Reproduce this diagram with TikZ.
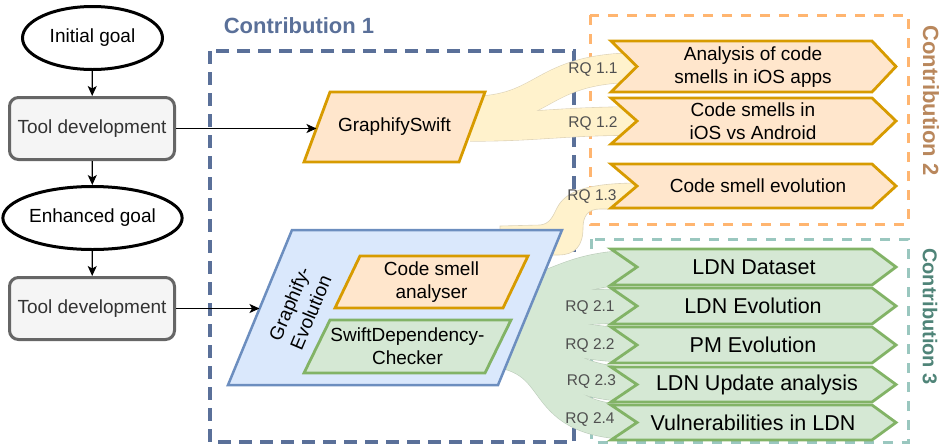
\documentclass[tikz,border=0pt]{standalone}
\usepackage{fontspec}
\setmainfont{Liberation Sans}
\usetikzlibrary{arrows.meta,shapes.geometric}

\definecolor{conOneLine}{HTML}{5A7099}
\definecolor{conTwoLine}{HTML}{FFB570}
\definecolor{conTwoText}{HTML}{B9875C}
\definecolor{conThreeLine}{HTML}{9AC7BF}
\definecolor{conThreeText}{HTML}{4F8478}
\definecolor{orFill}{HTML}{FFE6CC}
\definecolor{orLine}{HTML}{D79B00}
\definecolor{grFill}{HTML}{D5E8D4}
\definecolor{grLine}{HTML}{82B366}
\definecolor{blFill}{HTML}{DAE8FC}
\definecolor{blLine}{HTML}{6C8EBF}
\definecolor{ribYellow}{HTML}{FFF2CC}
\definecolor{ribYellowEdge}{HTML}{DDD3B8}
\definecolor{ribGreen}{HTML}{D5E8D4}
\definecolor{ribGreenEdge}{HTML}{BCCDBB}
\definecolor{rqGray}{HTML}{505050}
\definecolor{toolFill}{HTML}{F5F5F5}
\definecolor{toolLine}{HTML}{666666}
\definecolor{toolText}{HTML}{333333}

% step (chevron) outline: style, top, bottom
\newcommand{\stepoutline}[3]{%
  \draw[#1] (611,#2) -- (872,#2) -- (896,{(#2+#3)/2}) -- (872,#3) -- (611,#3)
    -- (637,{(#2+#3)/2}) -- cycle;}

\begin{document}
\begin{tikzpicture}[x=1pt,y=-1pt,
  goal/.style={ellipse, draw=black, line width=3pt, minimum width=140pt,
    minimum height=63pt, inner sep=0pt, font=\fontsize{19}{23}\selectfont},
  tooldev/.style={rectangle, rounded corners=9pt, draw=toolLine, fill=toolFill,
    line width=3pt, minimum width=165pt, minimum height=62pt, inner sep=0pt,
    text=toolText, font=\fontsize{19}{23}\selectfont},
  flow/.style={-{Stealth[length=10pt,width=9pt,inset=2.5pt]}, line width=1.2pt},
  txt/.style={font=\fontsize{19}{23}\selectfont, align=center, inner sep=0pt},
  bigtxt/.style={font=\fontsize{21.5}{25}\selectfont, align=center, inner sep=0pt},
  rq/.style={font=\fontsize{15.5}{18}\selectfont, text=rqGray, inner sep=0pt, anchor=base},
  ctitle/.style={font=\fontsize{#1}{26}\selectfont\bfseries, inner sep=0pt},
  ribbon/.style={line width=#1},
  conOne/.style={draw=conOneLine, line width=3.5pt, dash pattern=on 13pt off 8pt},
  conTwo/.style={draw=conTwoLine, line width=3pt, dash pattern=on 10pt off 9pt},
  conThree/.style={draw=conThreeLine, line width=3pt, dash pattern=on 10pt off 9pt},
  orShape/.style={draw=orLine, fill=orFill, line width=2.8pt, line join=miter},
  grShape/.style={draw=grLine, fill=grFill, line width=2.8pt, line join=miter},
  blShape/.style={draw=blLine, fill=blFill, line width=2.5pt},
]
\useasboundingbox (0,0) rectangle (944,445);

% ---------- contribution frames ----------
\draw[conOne] (210,51) rectangle (574,442);
\draw[conTwo] (590,15) rectangle (908,224);
\draw[conThree] (591.5,239) rectangle (908,442);

\node[ctitle=22, text=conOneLine, anchor=base] (titleOne) at (299,33.3) {Contribution 1};
\node[ctitle=22, text=conTwoText, rotate=-90] (titleTwo) at (931,100.5) {Contribution 2};
\node[ctitle=20, text=conThreeText, rotate=-90] (titleThree) at (930,316.5) {Contribution 3};

% ---------- ribbon ends ----------
\coordinate (gsA) at (470,111);
\coordinate (gsB) at (470,127);
\coordinate (geC) at (500,226);
\coordinate (sdR0) at (470,300);
\coordinate (sdR1) at (470,312);
\coordinate (sdR2) at (470,325);
\coordinate (sdR3) at (470,337);
\coordinate (sdR4) at (470,348);
\coordinate (tA) at (640,67.5);
\coordinate (tB) at (640,121);
\coordinate (tC) at (640,183);
\coordinate (t0) at (640,267.5);
\coordinate (t1) at (640,306);
\coordinate (t2) at (640,345);
\coordinate (t3) at (640,384.5);
\coordinate (t4) at (640,422.5);

% ---------- ribbons: thin edge first, then the body on top ----------
\draw[ribbon=30.2pt, ribYellowEdge] (gsA) .. controls (548,111) and (538,67.5) .. (tA);
\draw[ribbon=29.2pt, ribYellowEdge] (gsB) .. controls (540,127) and (560,121) .. (tB);
\draw[ribbon=29pt, ribYellow] (gsA) .. controls (548,111) and (538,67.5) .. (tA);
\draw[ribbon=28pt, ribYellow] (gsB) .. controls (540,127) and (560,121) .. (tB);

\draw[fill=ribYellow, draw=ribYellowEdge, line width=0.6pt]
  (geC) -- (540,225) .. controls (550,224) and (553,216) .. (557,208)
  .. controls (565,192) and (585,183) .. (tC) -- (640,209) -- (600,209)
  .. controls (588,209) and (583,216) .. (583,228)
  .. controls (583,246) and (575,255) .. (558,255) -- (500,255) -- cycle;

\foreach \s/\t/\ca/\cb in {sdR0/t0/{(560,300)}/{(555,267.5)},
                           sdR1/t1/{(560,312)}/{(560,306)},
                           sdR2/t2/{(565,325)}/{(555,345)},
                           sdR3/t3/{(570,337)}/{(540,384.5)},
                           sdR4/t4/{(580,348)}/{(520,422.5)}}
  \draw[ribbon=35.2pt, ribGreenEdge] (\s) .. controls \ca and \cb .. (\t);
\foreach \s/\t/\ca/\cb in {sdR0/t0/{(560,300)}/{(555,267.5)},
                           sdR1/t1/{(560,312)}/{(560,306)},
                           sdR2/t2/{(565,325)}/{(555,345)},
                           sdR3/t3/{(570,337)}/{(540,384.5)},
                           sdR4/t4/{(580,348)}/{(520,422.5)}}
  \draw[ribbon=34pt, ribGreen] (\s) .. controls \ca and \cb .. (\t);

% ---------- left column ----------
\node[goal] (initGoal) at (92.5,38) {Initial goal};
\node[tooldev] (toolA) at (92,128.5) {Tool development};
\node[goal] (enhGoal) at (92.5,218) {Enhanced goal};
\node[tooldev] (toolB) at (92,308.5) {Tool development};

\draw[flow] (initGoal) -- (toolA);
\draw[flow] (toolA) -- (enhGoal);
\draw[flow] (enhGoal) -- (toolB);

% ---------- tools ----------
\draw[orShape] (304,162) -- (330,92) -- (485,92) -- (459,162) -- cycle;
\node[txt] (gswift) at (394.5,127) {GraphifySwift};
\coordinate (gswiftIn) at (316.5,128.5);

\draw[blShape] (228,385) -- (292,230) -- (562,230) -- (498,385) -- cycle;
\node[txt, rotate=67] (gevo) at (300,308) {Graphify-\\Evolution};
\coordinate (gevoIn) at (259.5,308.5);

\draw[orShape] (335,308) -- (360,256) -- (528,256) -- (503,308) -- cycle;
\node[txt] (smell) at (431.5,282) {Code smell\\analyser};

\draw[grShape] (304,373) -- (330,320) -- (511,320) -- (485,373) -- cycle;
\node[txt] (swiftdep) at (407.5,346.5) {SwiftDependency-\\Checker};

\draw[flow] (toolA.east) -- (gswiftIn);
\draw[flow] (toolB.east) -- (gevoIn);

% ---------- research outcomes ----------
\stepoutline{orShape}{41}{92}
\stepoutline{orShape}{98}{144}
\stepoutline{orShape}{164}{208}
\node[txt] (outA) at (753,67) {Analysis of code\\smells in iOS apps};
\node[txt] (outB) at (753,121) {Code smells in\\iOS vs Android};
\node[txt] (outC) at (758,186) {Code smell evolution};

\stepoutline{grShape}{249}{285}
\stepoutline{grShape}{288}{324}
\stepoutline{grShape}{327}{363}
\stepoutline{grShape}{367}{402}
\stepoutline{grShape}{405}{440}
\node[bigtxt] (out0) at (754,267) {LDN Dataset};
\node[bigtxt] (out1) at (753,306) {LDN Evolution};
\node[bigtxt] (out2) at (753,345) {PM Evolution};
\node[bigtxt] (out3) at (757,384.5) {LDN Update analysis};
\node[bigtxt] (out4) at (753,422.5) {Vulnerabilities in LDN};

% ---------- research question labels ----------
\node[rq] (rq11) at (593,73.5) {RQ 1.1};
\node[rq] (rq12) at (593,127) {RQ 1.2};
\node[rq] (rq13) at (592,200.5) {RQ 1.3};
\node[rq] (rq21) at (590,311.5) {RQ 2.1};
\node[rq] (rq22) at (590,349) {RQ 2.2};
\node[rq] (rq23) at (591.5,385.5) {RQ 2.3};
\node[rq] (rq24) at (590,423) {RQ 2.4};
\end{tikzpicture}
\end{document}
